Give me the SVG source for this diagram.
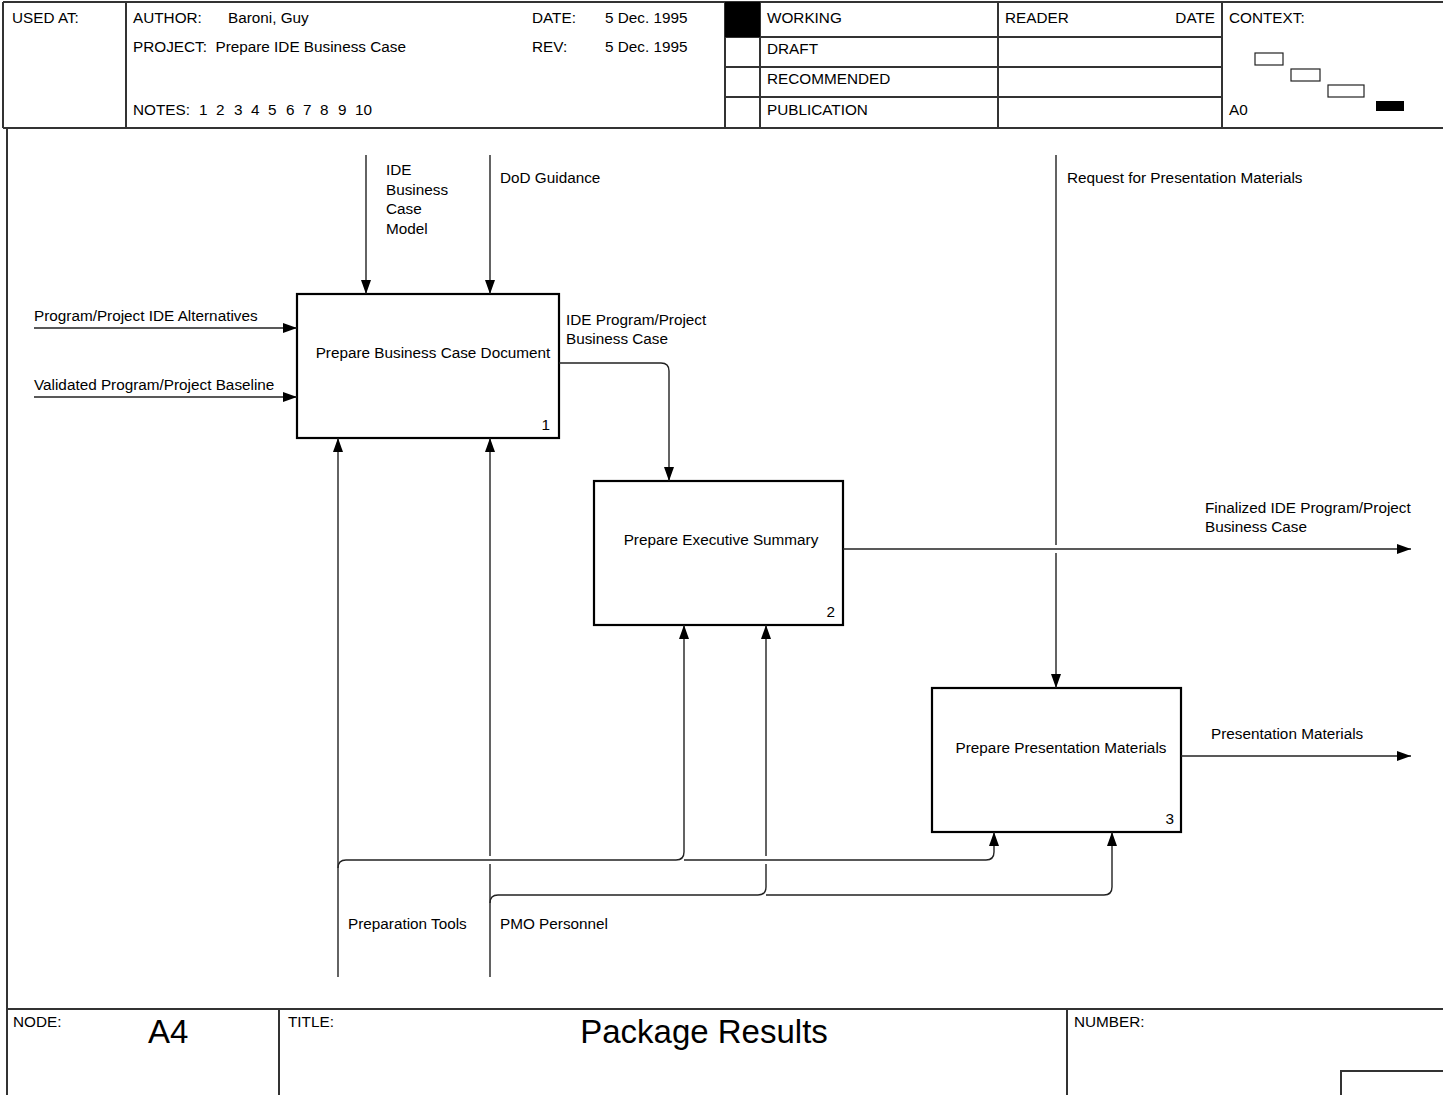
<svg xmlns="http://www.w3.org/2000/svg" width="1443" height="1095" viewBox="0 0 1443 1095">
  <style>
    text { font-family: "Liberation Sans", Arial, sans-serif; font-size: 15.3px; fill: #000; }
    .frame { fill: none; stroke: #333; stroke-width: 2; }
    .box { fill: #fff; stroke: #000; stroke-width: 2.2; }
    .wire { fill: none; stroke: #222; stroke-width: 1.4; }
    .arrow { marker-end: url(#head); }
    .big { font-size: 33px; }
    .ctx { fill: #fff; stroke: #222; stroke-width: 1.2; }
  </style>
  <defs>
    <marker id="head" viewBox="0 0 14 10" refX="14" refY="5" markerWidth="14" markerHeight="10" markerUnits="userSpaceOnUse" orient="auto">
      <path d="M0,0 L14,5 L0,10 z" fill="#000"/>
    </marker>
  </defs>
  <rect width="1443" height="1095" fill="#fff"/>

  <!-- header block -->
  <g id="header">
    <path class="frame" d="M3,2 H1443 M3,2 V128 M3,128 H1443 M126,2 V128 M725,2 V128 M760,2 V128 M998,2 V128 M1222,2 V128"/>
    <path class="frame" d="M725,37 H1222 M725,67 H1222 M725,97 H1222"/>
    <rect x="725" y="2" width="35" height="35" fill="#000"/>
    <text x="12" y="23">USED AT:</text>
    <text x="133" y="23">AUTHOR:</text>
    <text x="228" y="23">Baroni, Guy</text>
    <text x="532" y="23">DATE:</text>
    <text x="605" y="23">5 Dec. 1995</text>
    <text x="133" y="52" xml:space="preserve">PROJECT:  Prepare IDE Business Case</text>
    <text x="532" y="52">REV:</text>
    <text x="605" y="52">5 Dec. 1995</text>
    <text x="133" y="115">NOTES:</text>
    <text x="199" y="115">1</text>
    <text x="216" y="115">2</text>
    <text x="234" y="115">3</text>
    <text x="251" y="115">4</text>
    <text x="268" y="115">5</text>
    <text x="286" y="115">6</text>
    <text x="303" y="115">7</text>
    <text x="320" y="115">8</text>
    <text x="338" y="115">9</text>
    <text x="355" y="115">10</text>
    <text x="767" y="23">WORKING</text>
    <text x="767" y="54">DRAFT</text>
    <text x="767" y="84">RECOMMENDED</text>
    <text x="767" y="115">PUBLICATION</text>
    <text x="1005" y="23">READER</text>
    <text x="1215" y="23" text-anchor="end">DATE</text>
    <text x="1229" y="23">CONTEXT:</text>
    <text x="1229" y="115">A0</text>
    <rect class="ctx" x="1255" y="53" width="28" height="12"/>
    <rect class="ctx" x="1291" y="69" width="29" height="12"/>
    <rect class="ctx" x="1328" y="85" width="36" height="12"/>
    <rect x="1376" y="101" width="28" height="10" fill="#000"/>
  </g>

  <!-- body frame and footer -->
  <g id="footer">
    <path class="frame" d="M7,128 V1095 M7,1009 H1443 M279,1009 V1095 M1067,1009 V1095 M1341,1095 V1071 H1443"/>
    <text x="13" y="1027">NODE:</text>
    <text class="big" x="148" y="1043">A4</text>
    <text x="288" y="1027">TITLE:</text>
    <text class="big" x="704" y="1043" text-anchor="middle">Package Results</text>
    <text x="1074" y="1027">NUMBER:</text>
  </g>

  <!-- activity boxes -->
  <g id="node-1">
    <rect class="box" x="297" y="294" width="262" height="144"/>
    <text x="433" y="358" text-anchor="middle">Prepare Business Case Document</text>
    <text x="550" y="430" text-anchor="end">1</text>
  </g>
  <g id="node-2">
    <rect class="box" x="594" y="481" width="249" height="144"/>
    <text x="721" y="545" text-anchor="middle">Prepare Executive Summary</text>
    <text x="835" y="617" text-anchor="end">2</text>
  </g>
  <g id="node-3">
    <rect class="box" x="932" y="688" width="249" height="144"/>
    <text x="1061" y="753" text-anchor="middle">Prepare Presentation Materials</text>
    <text x="1174" y="824" text-anchor="end">3</text>
  </g>

  <!-- arrows -->
  <g id="connectors">
    <path class="wire arrow" d="M34,328 H297"/>
    <path class="wire arrow" d="M34,397 H297"/>
    <path class="wire arrow" d="M366,155 V294"/>
    <path class="wire arrow" d="M490,155 V294"/>
    <path class="wire arrow" d="M1056,155 V545 M1056,553 V688"/>
    <path class="wire arrow" d="M559,363 H661 Q669,363 669,371 V481"/>
    <path class="wire arrow" d="M843,549 H1411"/>
    <path class="wire arrow" d="M1181,756 H1411"/>
    <!-- Preparation Tools -->
    <path class="wire arrow" d="M338,977 V438"/>
    <path class="wire arrow" d="M338,868 Q338,860 346,860 H676 Q684,860 684,852 V625"/>
    <path class="wire arrow" d="M684,860 H986 Q994,860 994,852 V832"/>
    <!-- PMO Personnel -->
    <path class="wire arrow" d="M490,977 V864 M490,856 V438"/>
    <path class="wire arrow" d="M490,903 Q490,895 498,895 H758 Q766,895 766,887 V864 M766,856 V625"/>
    <path class="wire arrow" d="M766,895 H1104 Q1112,895 1112,887 V832"/>
  </g>

  <!-- arrow labels -->
  <g id="labels">
    <text x="34" y="321">Program/Project IDE Alternatives</text>
    <text x="34" y="390">Validated Program/Project Baseline</text>
    <text x="386" y="175">IDE</text>
    <text x="386" y="195">Business</text>
    <text x="386" y="214">Case</text>
    <text x="386" y="234">Model</text>
    <text x="500" y="183">DoD Guidance</text>
    <text x="1067" y="183">Request for Presentation Materials</text>
    <text x="566" y="325">IDE Program/Project</text>
    <text x="566" y="344">Business Case</text>
    <text x="1205" y="513">Finalized IDE Program/Project</text>
    <text x="1205" y="532">Business Case</text>
    <text x="1211" y="739">Presentation Materials</text>
    <text x="348" y="929">Preparation Tools</text>
    <text x="500" y="929">PMO Personnel</text>
  </g>
</svg>
